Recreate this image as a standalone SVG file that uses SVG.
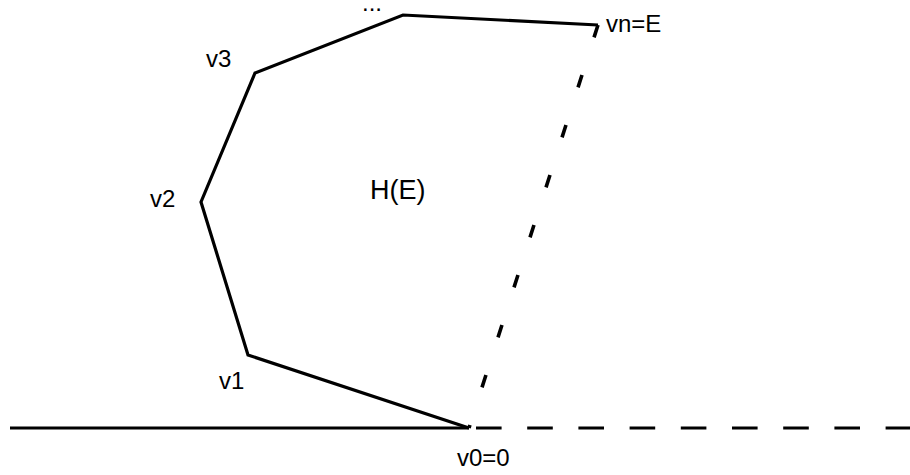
<svg xmlns="http://www.w3.org/2000/svg" width="910" height="475" viewBox="0 0 910 475">
<style>
  .lbl { font-family: "Liberation Sans", Arial, sans-serif; font-size: 24px; fill: #000; }
  .big { font-size: 27px; }
  .solid { fill: none; stroke: #000; stroke-width: 3.2; stroke-linejoin: miter; }
  .dash-h { fill: none; stroke: #000; stroke-width: 3.2; stroke-dasharray: 25.6 25.6; }
  .dash-o { fill: none; stroke: #000; stroke-width: 3.6; stroke-dasharray: 13 39.5; }
</style>
<rect width="910" height="475" fill="#fff"/>
<g id="connectors">
  <line class="solid" x1="10" y1="428" x2="469" y2="428"/>
  <line class="dash-h" x1="476" y1="428" x2="910" y2="428"/>
  <polyline class="solid" points="469,428 248,355 201,202 255,73 403,15 598,25"/>
  <line class="dash-o" x1="598" y1="25" x2="469" y2="428"/>
</g>
<g id="v0"><text class="lbl" x="457" y="466">v0=0</text></g>
<g id="v1"><text class="lbl" x="219" y="389">v1</text></g>
<g id="v2"><text class="lbl" x="150" y="207">v2</text></g>
<g id="v3"><text class="lbl" x="206" y="67">v3</text></g>
<g id="dots"><text class="lbl" x="362" y="11">...</text></g>
<g id="vn"><text class="lbl" x="606" y="32">vn=E</text></g>
<g id="region"><text class="lbl big" x="370" y="199">H(E)</text></g>
</svg>
